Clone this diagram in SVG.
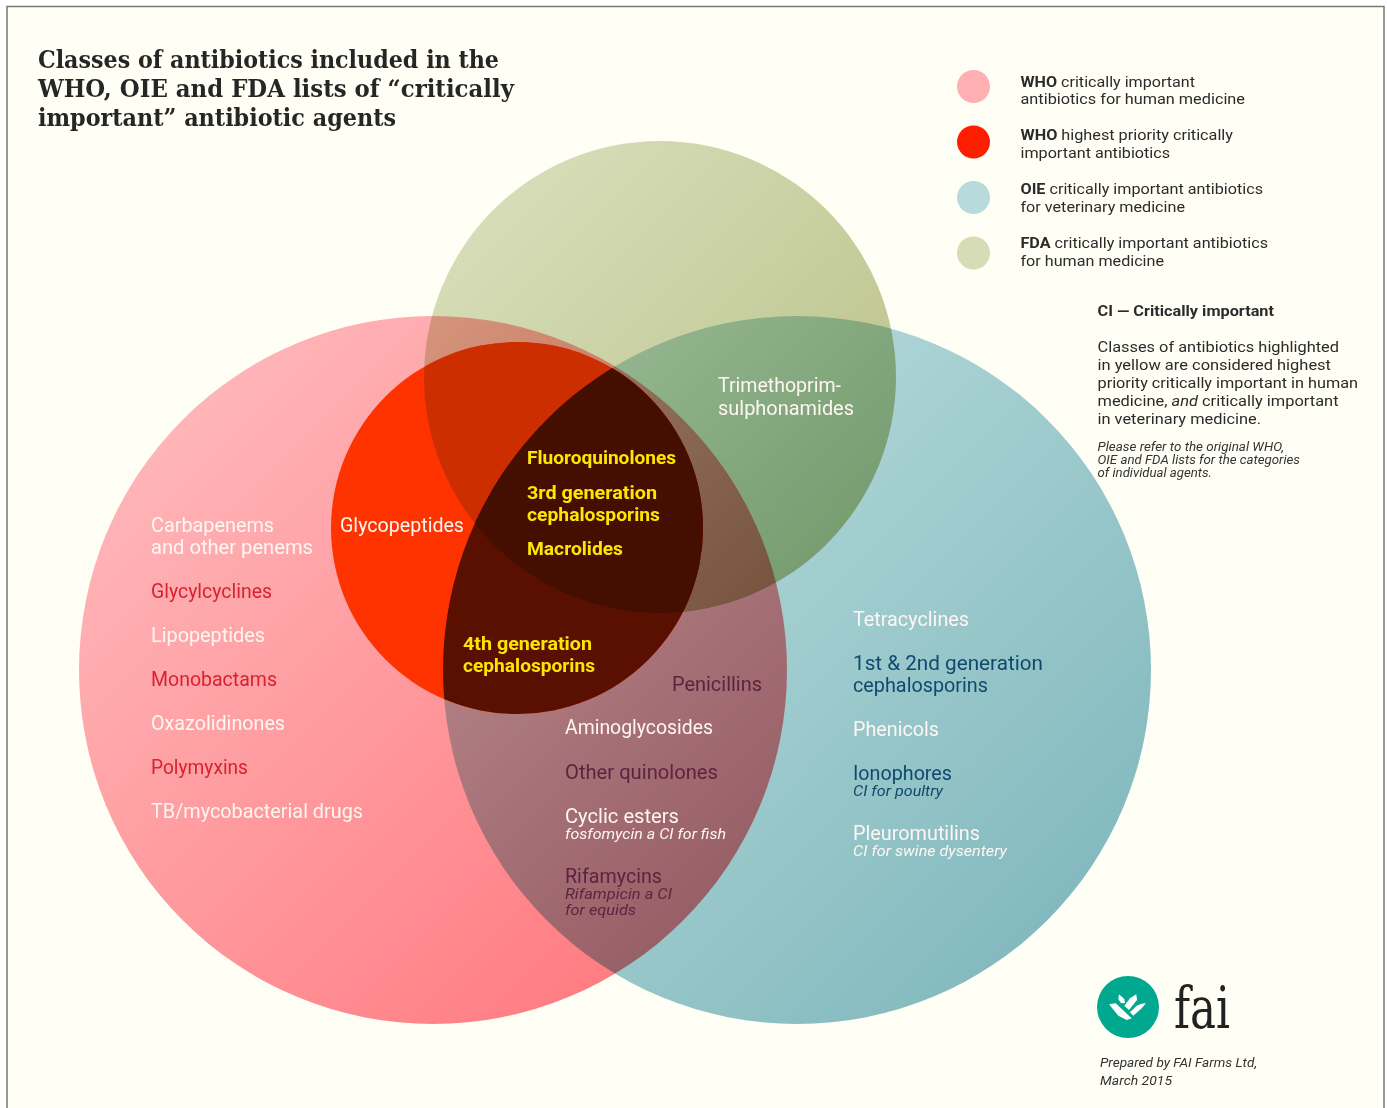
<svg xmlns="http://www.w3.org/2000/svg" width="1387" height="1108" viewBox="0 0 1387 1108">
<style>
text{font-family:Roboto,"Liberation Sans",sans-serif}
.t{font-family:"DejaVu Serif",serif;font-weight:700;font-size:25px;fill:#262626}
.lg{font-size:15.500px;fill:#2b2b2b}
.n{font-size:12.500px;font-style:italic;fill:#333}
.b{font-weight:700}
.l{font-size:19.500px}
.w{fill:#fff6f2}
.r{fill:#d9222e}
.d{fill:#5e2340}
.v{fill:#0f4a6e}
.y{font-size:18.500px;font-weight:700;fill:#ffe600}
.s{font-size:15px;font-style:italic}
.m{mix-blend-mode:multiply}
</style>
<defs>
<linearGradient id="gp" x1="0.15" y1="0.15" x2="0.85" y2="0.85"><stop offset="0" stop-color="#ffb4b7"/><stop offset="1" stop-color="#ff7c82"/></linearGradient>
<linearGradient id="gt" x1="0.15" y1="0.15" x2="0.85" y2="0.85"><stop offset="0" stop-color="#b9dcdc"/><stop offset="1" stop-color="#84babf"/></linearGradient>
<linearGradient id="go" x1="0.15" y1="0.15" x2="0.85" y2="0.85"><stop offset="0" stop-color="#d6dcb7"/><stop offset="1" stop-color="#bbc38b"/></linearGradient>
<clipPath id="cInner"><circle cx="517" cy="528" r="186"/></clipPath>
<clipPath id="cTeal"><circle cx="797" cy="670" r="354"/></clipPath>
</defs>
<rect id="page" x="7" y="6.500" width="1377" height="1110" fill="#fffff6" stroke="#777" stroke-width="1.500"/>
<g id="title">
<text class="t" x="38" y="67.500" textLength="461" lengthAdjust="spacingAndGlyphs">Classes of antibiotics included in the</text>
<text class="t" x="38" y="96.500" textLength="476" lengthAdjust="spacingAndGlyphs">WHO, OIE and FDA lists of “critically</text>
<text class="t" x="38" y="125.500" textLength="358" lengthAdjust="spacingAndGlyphs">important” antibiotic agents</text>
</g>
<g id="venn" style="isolation:isolate">
<circle id="who-circle" class="m" cx="433" cy="670" r="354" fill="url(#gp)"/>
<circle id="oie-circle" class="m" cx="797" cy="670" r="354" fill="url(#gt)"/>
<circle id="fda-circle" class="m" cx="660" cy="377" r="236" fill="url(#go)"/>
<g id="who-highest">
<circle cx="517" cy="528" r="186" fill="#ff3300"/>
<g clip-path="url(#cInner)">
<circle cx="660" cy="377" r="236" fill="#cc2e00"/>
<circle cx="797" cy="670" r="354" fill="#5a1000"/>
<g clip-path="url(#cTeal)"><circle cx="660" cy="377" r="236" fill="#450f00"/></g>
</g>
</g>
</g>
<g id="who-labels">
<text class="l w" x="151" y="532" textLength="123" lengthAdjust="spacingAndGlyphs">Carbapenems</text>
<text class="l w" x="151" y="554" textLength="162" lengthAdjust="spacingAndGlyphs">and other penems</text>
<text class="l r" x="151" y="598" textLength="121" lengthAdjust="spacingAndGlyphs">Glycylcyclines</text>
<text class="l w" x="151" y="642" textLength="114" lengthAdjust="spacingAndGlyphs">Lipopeptides</text>
<text class="l r" x="151" y="686" textLength="126" lengthAdjust="spacingAndGlyphs">Monobactams</text>
<text class="l w" x="151" y="730" textLength="134" lengthAdjust="spacingAndGlyphs">Oxazolidinones</text>
<text class="l r" x="151" y="774" textLength="97" lengthAdjust="spacingAndGlyphs">Polymyxins</text>
<text class="l w" x="151" y="818" textLength="212" lengthAdjust="spacingAndGlyphs">TB/mycobacterial drugs</text>
<text class="l w" x="340" y="532" textLength="124" lengthAdjust="spacingAndGlyphs">Glycopeptides</text>
</g>
<g id="priority-labels">
<text class="y" x="527" y="464" textLength="149" lengthAdjust="spacingAndGlyphs">Fluoroquinolones</text>
<text class="y" x="527" y="499" textLength="130" lengthAdjust="spacingAndGlyphs">3rd generation</text>
<text class="y" x="527" y="521" textLength="133" lengthAdjust="spacingAndGlyphs">cephalosporins</text>
<text class="y" x="527" y="555" textLength="96" lengthAdjust="spacingAndGlyphs">Macrolides</text>
<text class="y" x="463" y="650" textLength="129" lengthAdjust="spacingAndGlyphs">4th generation</text>
<text class="y" x="463" y="672" textLength="132" lengthAdjust="spacingAndGlyphs">cephalosporins</text>
</g>
<g id="shared-labels">
<text class="l w" x="718" y="392" textLength="123" lengthAdjust="spacingAndGlyphs">Trimethoprim-</text>
<text class="l w" x="718" y="415" textLength="136" lengthAdjust="spacingAndGlyphs">sulphonamides</text>
<text class="l d" x="672" y="691" textLength="90" lengthAdjust="spacingAndGlyphs">Penicillins</text>
<text class="l w" x="565" y="734" textLength="148" lengthAdjust="spacingAndGlyphs">Aminoglycosides</text>
<text class="l d" x="565" y="779" textLength="153" lengthAdjust="spacingAndGlyphs">Other quinolones</text>
<text class="l w" x="565" y="823" textLength="114" lengthAdjust="spacingAndGlyphs">Cyclic esters</text>
<text class="s w" x="565" y="839" textLength="161" lengthAdjust="spacingAndGlyphs">fosfomycin a CI for fish</text>
<text class="l d" x="565" y="883" textLength="97" lengthAdjust="spacingAndGlyphs">Rifamycins</text>
<text class="s d" x="565" y="899" textLength="107" lengthAdjust="spacingAndGlyphs">Rifampicin a CI</text>
<text class="s d" x="565" y="915" textLength="71" lengthAdjust="spacingAndGlyphs">for equids</text>
</g>
<g id="oie-labels">
<text class="l w" x="853" y="626" textLength="116" lengthAdjust="spacingAndGlyphs">Tetracyclines</text>
<text class="l v" x="853" y="670" textLength="190" lengthAdjust="spacingAndGlyphs">1st &amp; 2nd generation</text>
<text class="l v" x="853" y="692" textLength="135" lengthAdjust="spacingAndGlyphs">cephalosporins</text>
<text class="l w" x="853" y="736" textLength="86" lengthAdjust="spacingAndGlyphs">Phenicols</text>
<text class="l v" x="853" y="780" textLength="99" lengthAdjust="spacingAndGlyphs">Ionophores</text>
<text class="s v" x="853" y="796" textLength="90" lengthAdjust="spacingAndGlyphs">CI for poultry</text>
<text class="l w" x="853" y="840" textLength="127" lengthAdjust="spacingAndGlyphs">Pleuromutilins</text>
<text class="s w" x="853" y="856" textLength="154" lengthAdjust="spacingAndGlyphs">CI for swine dysentery</text>
</g>
<g id="legend">
<g id="legend-who"><circle cx="973.500" cy="86.500" r="16.500" fill="#ffb0b3"/>
<text class="lg" x="1020.500" y="87" textLength="174.500" lengthAdjust="spacingAndGlyphs"><tspan class="b">WHO</tspan> critically important</text>
<text class="lg" x="1020.500" y="104" textLength="224.500" lengthAdjust="spacingAndGlyphs">antibiotics for human medicine</text></g>
<g id="legend-who-high"><circle cx="973.500" cy="142" r="16.500" fill="#ff1e00"/>
<text class="lg" x="1020.500" y="140" textLength="212.500" lengthAdjust="spacingAndGlyphs"><tspan class="b">WHO</tspan> highest priority critically</text>
<text class="lg" x="1020.500" y="158" textLength="149.500" lengthAdjust="spacingAndGlyphs">important antibiotics</text></g>
<g id="legend-oie"><circle cx="973.500" cy="197.500" r="16.500" fill="#b7dada"/>
<text class="lg" x="1020.500" y="194" textLength="242.500" lengthAdjust="spacingAndGlyphs"><tspan class="b">OIE</tspan> critically important antibiotics</text>
<text class="lg" x="1020.500" y="212" textLength="164.500" lengthAdjust="spacingAndGlyphs">for veterinary medicine</text></g>
<g id="legend-fda"><circle cx="973.500" cy="253" r="16.500" fill="#d6dcb6"/>
<text class="lg" x="1020.500" y="248" textLength="247.500" lengthAdjust="spacingAndGlyphs"><tspan class="b">FDA</tspan> critically important antibiotics</text>
<text class="lg" x="1020.500" y="266" textLength="143.500" lengthAdjust="spacingAndGlyphs">for human medicine</text></g>
</g>
<g id="note">
<text class="lg b" x="1097.500" y="316" textLength="176.500" lengthAdjust="spacingAndGlyphs">CI — Critically important</text>
<text class="lg" x="1097.500" y="352" textLength="241.500" lengthAdjust="spacingAndGlyphs">Classes of antibiotics highlighted</text>
<text class="lg" x="1097.500" y="370" textLength="233.500" lengthAdjust="spacingAndGlyphs">in yellow are considered highest</text>
<text class="lg" x="1097.500" y="388" textLength="260.500" lengthAdjust="spacingAndGlyphs">priority critically important in human</text>
<text class="lg" x="1097.500" y="406" textLength="241" lengthAdjust="spacingAndGlyphs">medicine, <tspan font-style="italic">and</tspan> critically important</text>
<text class="lg" x="1097.500" y="424" textLength="163.500" lengthAdjust="spacingAndGlyphs">in veterinary medicine.</text>
<text class="n" x="1097.500" y="451" textLength="186.500" lengthAdjust="spacingAndGlyphs">Please refer to the original WHO,</text>
<text class="n" x="1097.500" y="464" textLength="202.500" lengthAdjust="spacingAndGlyphs">OIE and FDA lists for the categories</text>
<text class="n" x="1097.500" y="477" textLength="114.500" lengthAdjust="spacingAndGlyphs">of individual agents.</text>
</g>
<g id="logo">
<circle cx="1128" cy="1007" r="31" fill="#00a88f"/>
<g fill="#fff">
<path d="M1109 1004.300 L1115.700 1003.300 L1131.700 1018.300 L1126.700 1020 L1118.300 1015.700 Z"/>
<path d="M1119 994.300 L1124.300 999 L1125 1003 L1121 1003.300 L1118.300 999 Z"/>
<path d="M1136.300 994.300 L1137 1000 L1129 1010 L1124.300 1005.700 L1130 998.300 Z"/>
<path d="M1146 1003.300 L1141.700 1008.300 L1133.300 1015.700 L1130 1012.300 L1136.700 1005.700 L1141.700 1003.700 Z"/>
</g>
<text x="1174" y="1028" fill="#222" textLength="56" lengthAdjust="spacingAndGlyphs" style="font-family:'DejaVu Serif',serif;font-size:58px">fai</text>
<text class="n" x="1100" y="1067" style="font-size:13.500px" textLength="157" lengthAdjust="spacingAndGlyphs">Prepared by FAI Farms Ltd,</text>
<text class="n" x="1100" y="1085" style="font-size:13.500px" textLength="72" lengthAdjust="spacingAndGlyphs">March 2015</text>
</g>
</svg>
